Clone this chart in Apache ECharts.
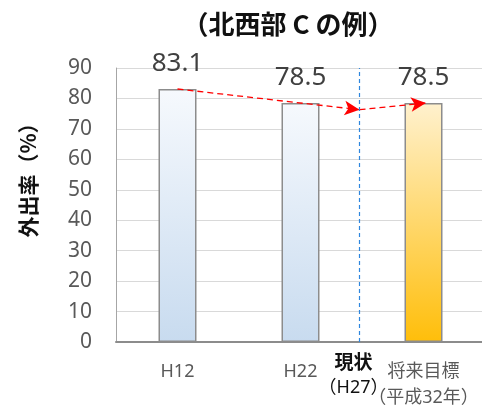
<!DOCTYPE html>
<html>
<head>
<meta charset="utf-8">
<script src="https://cdn.jsdelivr.net/npm/echarts@6/dist/echarts.min.js"></script>
<style>html,body{margin:0;padding:0;background:#fff;}#c{width:482px;height:405px;}</style>
</head>
<body>
<div id="c"></div>
<script>
var categories = ['H12', 'H22', '将来目標\n（平成32年）'];
var values = [83.1, 78.5, 78.5];
var trendX = [0.5, 1.98, 2.52];
var trendY = [83.1, 76.3, 78.5];
var currentX = 1.98;
var yTicks = [0, 90, 10];
var yName = '外出率（%）';

var blueGrad = new echarts.graphic.LinearGradient(0, 0, 0, 1, [
  {offset: 0, color: '#F6F9FD'}, {offset: 1, color: '#C8DBEF'}]);
var goldGrad = new echarts.graphic.LinearGradient(0, 0, 0, 1, [
  {offset: 0, color: '#FFF1CE'}, {offset: 1, color: '#FFBE0A'}]);

var font = '"Noto Sans", "Noto Sans CJK JP", sans-serif';
var cjk = '"Noto Sans CJK JP", sans-serif';
var chart = echarts.init(document.getElementById('c'));
var pts = trendX.map(function (x, i) { return [x, trendY[i]]; });
var segs = [];
for (var i = 0; i < pts.length - 1; i++) {
  segs.push([{coord: pts[i]}, {coord: pts[i + 1]}]);
}

chart.setOption({
  animation: false,
  title: {
    text: '（北西部 C の例）',
    left: 283, top: 6, textAlign: 'center',
    textStyle: {fontSize: 26, fontWeight: 'bold', color: '#111', fontFamily: cjk}
  },
  graphic: [{
    type: 'text', x: 28, y: 175, rotation: Math.PI / 2,
    style: {text: yName, fontSize: 21, fontWeight: 'bold', fill: '#111', fontFamily: cjk,
            align: 'center', verticalAlign: 'middle'}
  }],
  grid: {left: 116, top: 68, bottom: 63, width: 369, outerBoundsMode: 'none', containLabel: false},
  xAxis: [{
    type: 'category', data: categories,
    axisLine: {lineStyle: {color: '#8c8c8c', width: 2}},
    axisTick: {show: false},
    axisLabel: {fontSize: 18, color: '#595959', margin: 17, lineHeight: 26, fontFamily: font, interval: 0}
  }, {
    type: 'value', min: 0, max: 3, show: false
  }],
  yAxis: {
    type: 'value', min: yTicks[0], max: yTicks[1], interval: yTicks[2],
    axisLine: {show: true, lineStyle: {color: '#a6a6a6', width: 1}},
    axisTick: {show: false},
    axisLabel: {fontSize: 21, color: '#595959', margin: 24, fontFamily: font},
    splitLine: {lineStyle: {color: '#d9d9d9', width: 1}}
  },
  series: [{
    type: 'bar', data: values.map(function (v, i) {
      return {value: v, itemStyle: {color: i === 2 ? goldGrad : blueGrad}};
    }),
    barWidth: 38,
    itemStyle: {borderColor: '#8c8c8c', borderWidth: 1.5},
    label: {show: true, position: 'top', distance: 12, fontSize: 26, color: '#404040', fontFamily: font}
  }, {
    type: 'line', xAxisIndex: 1, data: pts, symbol: 'none',
    lineStyle: {width: 0, opacity: 0},
    silent: true,
    markLine: {
      silent: true, animation: false,
      symbol: ['none', 'arrow'], symbolSize: [11, 15],
      lineStyle: {color: '#ff0000', type: [6, 4], width: 1.3},
      label: {show: false},
      data: segs
    }
  }, {
    type: 'line', xAxisIndex: 1, data: [[currentX, 0]], symbol: 'none',
    lineStyle: {opacity: 0}, silent: true,
    markLine: {
      silent: true, animation: false, symbol: ['none', 'none'],
      lineStyle: {color: '#2E86DE', type: [4, 3], width: 1.2},
      label: {
        show: true, position: 'start', distance: 7, offset: [-6, 0],
        formatter: '{a|現状}\n{b|（H27）}',
        rich: {
          a: {fontSize: 19, fontWeight: 'bold', color: '#111', lineHeight: 26, fontFamily: cjk},
          b: {fontSize: 18, color: '#111', lineHeight: 26, fontFamily: font}
        }
      },
      data: [{xAxis: currentX}]
    }
  }]
});
</script>
</body>
</html>
